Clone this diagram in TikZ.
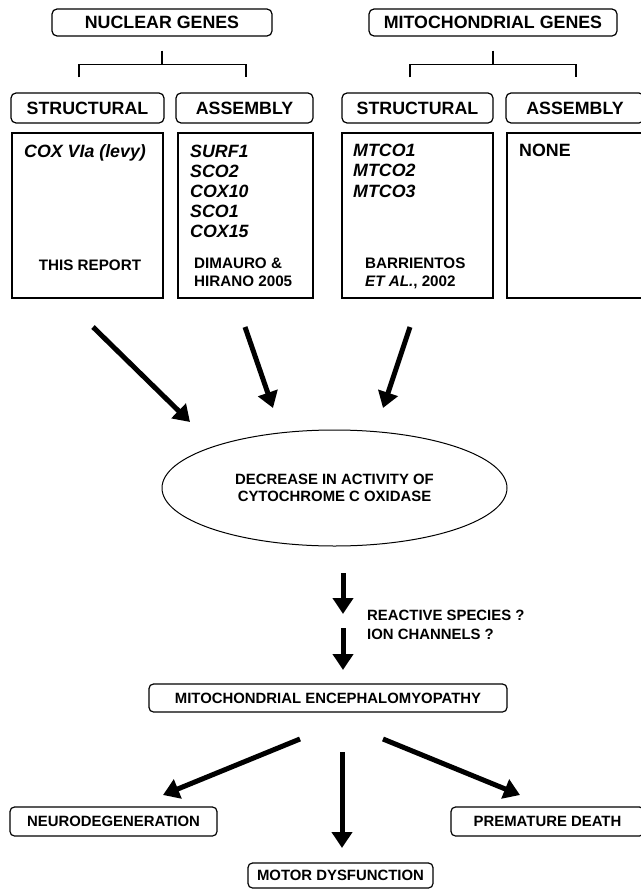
\documentclass[tikz,border=0pt]{standalone}
\usepackage{fontspec}
\setmainfont{Liberation Sans}
\usetikzlibrary{arrows.meta,shapes.geometric,calc}
\newcommand{\fhdr}{\fontsize{17.8}{20}\selectfont\bfseries}
\newcommand{\fgene}{\fontsize{17.8}{20}\selectfont\bfseries\itshape}
\newcommand{\fref}{\fontsize{15.2}{18}\selectfont\bfseries}
\newcommand{\fbody}{\fontsize{14.9}{17}\selectfont\bfseries}
\tikzset{
  hdr/.style={draw, rounded corners=5pt, line width=1.2pt, inner sep=0pt, font=\fhdr, minimum height=28pt},
  lbox/.style={draw, line width=1.2pt, inner sep=0pt},
  obox/.style={draw, rounded corners=4.5pt, line width=1.2pt, inner sep=0pt, font=\fbody},
  br/.style={line width=1.2pt},
  bigarr/.style={line width=5pt, -{Triangle[length=16pt,width=20pt]}},
  gtxt/.style={anchor=base west, inner sep=0pt, font=\fgene},
  rtxt/.style={anchor=base west, inner sep=0pt, font=\fref},
  btxt/.style={anchor=base west, inner sep=0pt, font=\fbody}
}
\begin{document}
\begin{tikzpicture}[x=1pt,y=-1pt]
\useasboundingbox (0,0) rectangle (640,889);
% headers
\node[hdr, minimum width=220pt, minimum height=27pt] (ng) at (162,22.5) {NUCLEAR GENES};
\node[hdr, minimum width=248pt, minimum height=27pt] (mg) at (493,22.5) {MITOCHONDRIAL GENES};
% row labels
\node[hdr, minimum width=153pt, minimum height=30pt] (ns) at (87.5,108) {STRUCTURAL};
\node[hdr, minimum width=137pt, minimum height=30pt] (na) at (244.5,108) {ASSEMBLY};
\node[hdr, minimum width=151pt, minimum height=30pt] (ms) at (417.5,108) {STRUCTURAL};
\node[hdr, minimum width=138pt, minimum height=30pt] (ma) at (575,108) {ASSEMBLY};
% brackets
\draw[br] ($(ng.south)+(0,14)$) -- ($(ng.south)+(0,28)$) coordinate (nj);
\draw[br] ($(ns.north)+(-8.5,-15)$) |- (nj) -| ($(na.north)+(1.5,-15)$);
\draw[br] ($(mg.south)+(0,14)$) -- ($(mg.south)+(0,28)$) coordinate (mj);
\draw[br] ($(ms.north)+(-7.5,-15)$) |- (mj) -| ($(ma.north)+(1,-15)$);
% list boxes
\node[lbox, minimum width=151pt, minimum height=165pt] (lns) at (87.5,215.5) {};
\node[lbox, minimum width=135pt, minimum height=165pt] (lna) at (245.5,215.5) {};
\node[lbox, minimum width=151pt, minimum height=165pt] (lms) at (417.5,215.5) {};
\node[lbox, minimum width=150pt, minimum height=165pt] (lma) at (582,215.5) {};
% list contents
\node[gtxt] (t1) at (24,157) {COX VIa (levy)};
\node[rtxt, anchor=base] (t2) at (90,270) {THIS REPORT};
\node[gtxt] (g1) at (190,157) {SURF1};
\node[gtxt] (g2) at (190,177) {SCO2};
\node[gtxt] (g3) at (190,197) {COX10};
\node[gtxt] (g4) at (190,217) {SCO1};
\node[gtxt] (g5) at (190,237) {COX15};
\node[rtxt] (r1) at (194,268) {DIMAURO \&};
\node[rtxt] (r2) at (194,286) {HIRANO 2005};
\node[gtxt] (m1) at (353,156) {MTCO1};
\node[gtxt] (m2) at (353,176.5) {MTCO2};
\node[gtxt] (m3) at (353,197) {MTCO3};
\node[rtxt] (b1) at (365,268) {BARRIENTOS};
\node[rtxt] (b2) at (365,286) {\textit{ET AL.}, 2002};
\node[gtxt, font=\fhdr] (none) at (519,156) {NONE};
% ellipse
\node[ellipse, draw, line width=1pt, minimum width=345pt, minimum height=116pt, inner sep=0pt, align=center, font=\fbody] (el) at (334.5,488) {DECREASE IN ACTIVITY OF\\CYTOCHROME C OXIDASE};
% arrows into ellipse
\coordinate (a1s) at (93,327); \coordinate (a1e) at (190,422);
\coordinate (a2s) at (245,327); \coordinate (a2e) at (273,408);
\coordinate (a3s) at (410,327); \coordinate (a3e) at (383,408);
\draw[bigarr] (a1s) -- (a1e);
\draw[bigarr] (a2s) -- (a2e);
\draw[bigarr] (a3s) -- (a3e);
% middle arrows
\coordinate (a4s) at (343,573); \coordinate (a4e) at (343,614);
\coordinate (a5s) at (343,628); \coordinate (a5e) at (343,670);
\draw[bigarr] (a4s) -- (a4e);
\draw[bigarr] (a5s) -- (a5e);
\node[btxt] (rs) at (367,620) {REACTIVE SPECIES ?};
\node[btxt] (ic) at (367,639) {ION CHANNELS ?};
% encephalomyopathy
\node[obox, minimum width=358pt, minimum height=28pt] (me) at (328,698) {MITOCHONDRIAL ENCEPHALOMYOPATHY};
% outcomes
\node[obox, minimum width=207pt, minimum height=29pt] (nd) at (113.5,821.5) {NEURODEGENERATION};
\node[obox, minimum width=193pt, minimum height=29pt] (pd) at (547.5,821.5) {PREMATURE DEATH};
\node[obox, minimum width=185pt, minimum height=25pt] (md) at (340.5,875.5) {MOTOR DYSFUNCTION};
\coordinate (a6s) at (300,739); \coordinate (a6e) at (163,795);
\coordinate (a7s) at (342,752); \coordinate (a7e) at (342,848);
\coordinate (a8s) at (383,739); \coordinate (a8e) at (520,795);
\draw[bigarr] (a6s) -- (a6e);
\draw[bigarr] (a7s) -- (a7e);
\draw[bigarr] (a8s) -- (a8e);
\end{tikzpicture}
\end{document}
